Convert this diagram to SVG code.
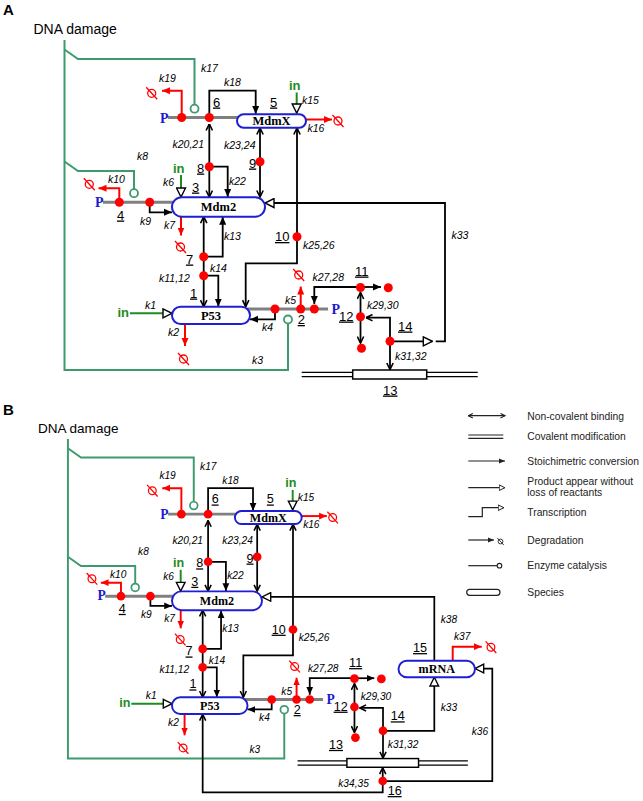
<svg xmlns="http://www.w3.org/2000/svg" xmlns:xlink="http://www.w3.org/1999/xlink" width="643" height="801" viewBox="0 0 643 801">
<style>
.c{fill:none;stroke:#000;stroke-width:1.8}
.r{fill:none;stroke:#f00;stroke-width:2}
.g{fill:none;stroke:#3e9a6e;stroke-width:2}
.gc{fill:#fff;stroke:#3e9a6e;stroke-width:1.8}
.gi{fill:none;stroke:#1e8c1e;stroke-width:2}
.ph{fill:none;stroke:#808080;stroke-width:3}
.dl{fill:none;stroke:#000;stroke-width:1.3}
.dot{fill:#f00}
.box{fill:#fff;stroke:#1f1fd1;stroke-width:2}
.bt{font-family:"Liberation Serif","Times New Roman",serif;font-weight:bold;font-size:12.5px;text-anchor:middle;fill:#000}
.k{font-family:"Liberation Sans",Arial,sans-serif;font-style:italic;font-size:10.5px;fill:#000}
.n{font-family:"Liberation Sans",Arial,sans-serif;font-size:13px;text-decoration:underline;fill:#000}
.in{font-family:"Liberation Sans",Arial,sans-serif;font-weight:bold;font-size:13px;fill:#1e8c1e}
.p{font-family:"Liberation Serif","Times New Roman",serif;font-weight:bold;font-size:14px;fill:#1a1acc}
.dna{font-family:"Liberation Sans",Arial,sans-serif;font-size:14px;fill:#000}
.pl{font-family:"Liberation Sans",Arial,sans-serif;font-weight:bold;font-size:15px;fill:#000}
.lg{font-family:"Liberation Sans",Arial,sans-serif;font-size:10.3px;fill:#222}
.lc{fill:none;stroke:#222;stroke-width:1.2}
</style>
<defs>
<marker id="fa" viewBox="0 0 8 8" refX="8" refY="4" markerWidth="8" markerHeight="8" markerUnits="userSpaceOnUse" orient="auto"><path d="M0,0.5L8,4L0,7.5z" fill="#000"/></marker>
<marker id="ra" viewBox="0 0 8 8" refX="8" refY="4" markerWidth="8" markerHeight="8" markerUnits="userSpaceOnUse" orient="auto"><path d="M0,0.5L8,4L0,7.5z" fill="#f00"/></marker>
<marker id="ch" viewBox="0 0 8 8" refX="7.5" refY="4" markerWidth="8" markerHeight="8" markerUnits="userSpaceOnUse" orient="auto-start-reverse"><path d="M1,0.8L7.5,4L1,7.2" fill="none" stroke="#000" stroke-width="1.6"/></marker>
<marker id="ot" viewBox="0 0 11 11" refX="10" refY="5.5" markerWidth="11" markerHeight="11" markerUnits="userSpaceOnUse" orient="auto"><path d="M1,1L10,5.5L1,10z" fill="#fff" stroke="#000" stroke-width="1.4"/></marker>
<marker id="lfa" viewBox="0 0 6 6" refX="6" refY="3" markerWidth="6" markerHeight="6" markerUnits="userSpaceOnUse" orient="auto"><path d="M0,0.5L6,3L0,5.5z" fill="#222"/></marker>
<marker id="lch" viewBox="0 0 6 6" refX="5.5" refY="3" markerWidth="6" markerHeight="6" markerUnits="userSpaceOnUse" orient="auto-start-reverse"><path d="M1,0.8L5.5,3L1,5.2" fill="none" stroke="#222" stroke-width="1.1"/></marker>
<marker id="lot" viewBox="0 0 7 7" refX="6.5" refY="3.5" markerWidth="7" markerHeight="7" markerUnits="userSpaceOnUse" orient="auto"><path d="M0.7,0.7L6.3,3.5L0.7,6.3z" fill="#fff" stroke="#222" stroke-width="1"/></marker>
<g id="deg"><circle r="4" fill="none" stroke="#f00" stroke-width="1.3"/><line x1="-5.5" y1="-6" x2="5.5" y2="6" stroke="#f00" stroke-width="1.3"/></g>
<g id="degk"><circle r="4" fill="none" stroke="#222" stroke-width="1.5"/><line x1="-5.5" y1="-6" x2="5.5" y2="6" stroke="#222" stroke-width="1.5"/></g>
</defs>

<!-- ================= PANEL A ================= -->
<text class="pl" x="3" y="15">A</text>
<g id="panelA">
<g id="a-connectors">
 <path class="g" d="M64.5,40V370H288V323.5"/>
 <path class="g" d="M64.5,49.5L78,59H194.5V104.7"/>
 <path class="g" d="M64.5,161.5L78,171H134V189.2"/>
 <circle class="gc" cx="194.5" cy="108.7" r="4"/>
 <circle class="gc" cx="134" cy="193.2" r="4"/>
 <circle class="gc" cx="288" cy="319.5" r="4"/>
 <path class="ph" d="M168,117.5H240"/>
 <path class="ph" d="M103,202.3H175"/>
 <path class="ph" d="M247,309H328"/>
 <path class="r" d="M181.7,117.5V90.7H162" marker-end="url(#ra)"/>
 <use href="#deg" x="151.7" y="93.3"/>
 <path class="r" d="M306,119.5H332" marker-end="url(#ra)"/>
 <use href="#deg" x="338" y="121"/>
 <path class="r" d="M119.3,202.3V188.3H98.5" marker-end="url(#ra)"/>
 <use href="#deg" x="89.3" y="184.3"/>
 <path class="r" d="M181,216.7V235.5" marker-end="url(#ra)"/>
 <use href="#deg" x="180.5" y="247"/>
 <path class="r" d="M185,324V346" marker-end="url(#ra)"/>
 <use href="#deg" x="183.5" y="359"/>
 <path class="r" d="M300.7,309V286.5" marker-end="url(#ra)"/>
 <use href="#deg" x="298.7" y="275"/>
 <path class="gi" d="M296.7,92.5V113" marker-end="url(#ot)"/>
 <path class="gi" d="M181,175V197" marker-end="url(#ot)"/>
 <path class="gi" d="M130,313.3H172" marker-end="url(#ot)"/>
 <path class="c" d="M209.3,117.5V90.7H255.7V114" marker-end="url(#fa)"/>
 <path class="c" d="M209.3,124V197" marker-start="url(#ch)" marker-end="url(#ch)"/>
 <path class="c" d="M209.3,166.7H227.7V197" marker-end="url(#fa)"/>
 <path class="c" d="M260,128V197" marker-start="url(#ch)" marker-end="url(#ch)"/>
 <path class="c" d="M297,128V263.3H245.7V306.7" marker-start="url(#ch)" marker-end="url(#ch)"/>
 <path class="c" d="M149.7,202.3V212.3H172" marker-end="url(#fa)"/>
 <path class="c" d="M203.7,216.7V306.7" marker-start="url(#ch)" marker-end="url(#ch)"/>
 <path class="c" d="M203.7,256.7H222.7V216.7" marker-end="url(#fa)"/>
 <path class="c" d="M203.7,275.7H218.3V306.7" marker-end="url(#fa)"/>
 <path class="c" d="M275,309V319.3H250" marker-end="url(#fa)"/>
 <path class="c" d="M360.5,287H314.3V304" marker-end="url(#fa)"/>
 <path class="c" d="M360.5,287H381" marker-end="url(#fa)"/>
 <path class="c" d="M360.5,292.5V343" marker-start="url(#ch)" marker-end="url(#ch)"/>
 <path class="c" d="M366,317.7H390V369.5" marker-start="url(#ch)" marker-end="url(#ch)"/>
 <path class="c" d="M390,341.3H432.3" marker-end="url(#ot)"/>
 <path class="c" d="M435.7,341.3H445V203H265" marker-end="url(#ot)"/>
 <path class="dl" d="M301.7,372.3H477.7M301.7,376.7H477.7"/>
</g>
<g id="a-labels">
 <text class="dna" x="33.5" y="33.5">DNA damage</text>
 <text class="k" x="159" y="81.5">k19</text>
 <text class="k" x="201" y="72">k17</text>
 <text class="k" x="224" y="86">k18</text>
 <text class="k" x="302" y="103.5">k15</text>
 <text class="k" x="307.5" y="132">k16</text>
 <text class="k" x="172.5" y="148">k20,21</text>
 <text class="k" x="224" y="148.5">k23,24</text>
 <text class="k" x="229" y="184.5">k22</text>
 <text class="k" x="137" y="160">k8</text>
 <text class="k" x="108" y="183">k10</text>
 <text class="k" x="163" y="186">k6</text>
 <text class="k" x="140" y="225">k9</text>
 <text class="k" x="164" y="229">k7</text>
 <text class="k" x="224" y="239.5">k13</text>
 <text class="k" x="210" y="272">k14</text>
 <text class="k" x="159" y="281.5">k11,12</text>
 <text class="k" x="303" y="248.5">k25,26</text>
 <text class="k" x="145" y="308.5">k1</text>
 <text class="k" x="168" y="336">k2</text>
 <text class="k" x="262" y="331">k4</text>
 <text class="k" x="285" y="304">k5</text>
 <text class="k" x="252" y="364">k3</text>
 <text class="k" x="312.5" y="280.5">k27,28</text>
 <text class="k" x="367" y="309">k29,30</text>
 <text class="k" x="395" y="359.5">k31,32</text>
 <text class="k" x="451.5" y="239">k33</text>
 <text class="in" x="289" y="89.5">in</text>
 <text class="in" x="173" y="172.5">in</text>
 <text class="in" x="117.5" y="316.5">in</text>
 <text class="p" x="160" y="123">P</text>
 <text class="p" x="95" y="206.5">P</text>
 <text class="p" x="331.5" y="313.5">P</text>
</g>
<g id="a-mdmx"><rect class="box" x="237" y="114.3" width="69" height="13.4" rx="6.7"/><text class="bt" x="271.5" y="125.3">MdmX</text><text class="n" x="270" y="106.5">5</text></g>
<g id="a-mdm2"><rect class="box" x="172" y="197.3" width="93" height="19.4" rx="9.7"/><text class="bt" x="218.5" y="211.3">Mdm2</text><text class="n" x="192" y="191.5">3</text></g>
<g id="a-p53"><rect class="box" x="172" y="306.7" width="78" height="17.3" rx="8.6"/><text class="bt" x="211" y="319.8">P53</text><text class="n" x="190" y="297.5">1</text></g>
<g id="a-n13"><rect x="352.7" y="370" width="74" height="9" fill="#fff" stroke="#000" stroke-width="1.5"/><text class="n" x="383" y="394.5">13</text></g>
<g id="a-n6"><circle class="dot" cx="209.3" cy="117.5" r="4.5"/><text class="n" x="213" y="106.5">6</text></g>
<g id="a-pmdmx"><circle class="dot" cx="181.7" cy="117.5" r="4.5"/></g>
<g id="a-n8"><circle class="dot" cx="209.3" cy="166.7" r="4.5"/><text class="n" x="197" y="172.5">8</text></g>
<g id="a-n9"><circle class="dot" cx="260" cy="161.7" r="4.5"/><text class="n" x="249" y="167.5">9</text></g>
<g id="a-n10"><circle class="dot" cx="297" cy="236.7" r="4.5"/><text class="n" x="275" y="241">10</text></g>
<g id="a-n4"><circle class="dot" cx="119.3" cy="202.3" r="4.5"/><text class="n" x="117" y="219.5">4</text></g>
<g id="a-pmdm2"><circle class="dot" cx="149.7" cy="202.3" r="4.5"/></g>
<g id="a-n7"><circle class="dot" cx="203.7" cy="256.7" r="4.5"/><text class="n" x="186" y="263.5">7</text></g>
<g id="a-c1"><circle class="dot" cx="203.7" cy="275.7" r="4.5"/></g>
<g id="a-c2"><circle class="dot" cx="275" cy="309" r="4.5"/></g>
<g id="a-n2"><circle class="dot" cx="300.7" cy="309" r="4.5"/><text class="n" x="297.7" y="324">2</text></g>
<g id="a-c3"><circle class="dot" cx="314.3" cy="309" r="4.5"/></g>
<g id="a-n11"><circle class="dot" cx="360.5" cy="287.5" r="4.5"/><text class="n" x="355" y="275.5">11</text></g>
<g id="a-c4"><circle class="dot" cx="388.3" cy="287.7" r="4.5"/></g>
<g id="a-n12"><circle class="dot" cx="360.5" cy="316.7" r="4.5"/><text class="n" x="339" y="320.5">12</text></g>
<g id="a-c5"><circle class="dot" cx="361.5" cy="348.3" r="4.5"/></g>
<g id="a-n14"><circle class="dot" cx="390" cy="341.3" r="4.5"/><text class="n" x="398" y="330.5">14</text></g>
</g>

<!-- ================= PANEL B ================= -->
<text class="pl" x="3" y="415">B</text>
<g id="panelB" transform="matrix(0.968 0 0 0.968 5.49 400.4)">
<g id="b-connectors">
 <path class="g" d="M64.5,40V370H288V323.5"/>
 <path class="g" d="M64.5,49.5L78,59H194.5V104.7"/>
 <path class="g" d="M64.5,161.5L78,171H134V189.2"/>
 <circle class="gc" cx="194.5" cy="108.7" r="4"/>
 <circle class="gc" cx="134" cy="193.2" r="4"/>
 <circle class="gc" cx="288" cy="319.5" r="4"/>
 <path class="ph" d="M168,117.5H240"/>
 <path class="ph" d="M103,202.3H175"/>
 <path class="ph" d="M247,309H328"/>
 <path class="r" d="M181.7,117.5V90.7H162" marker-end="url(#ra)"/>
 <use href="#deg" x="151.7" y="93.3"/>
 <path class="r" d="M306,119.5H332" marker-end="url(#ra)"/>
 <use href="#deg" x="338" y="121"/>
 <path class="r" d="M119.3,202.3V188.3H98.5" marker-end="url(#ra)"/>
 <use href="#deg" x="89.3" y="184.3"/>
 <path class="r" d="M181,216.7V235.5" marker-end="url(#ra)"/>
 <use href="#deg" x="180.5" y="247"/>
 <path class="r" d="M185,324V346" marker-end="url(#ra)"/>
 <use href="#deg" x="183.5" y="359"/>
 <path class="r" d="M300.7,309V286.5" marker-end="url(#ra)"/>
 <use href="#deg" x="298.7" y="275"/>
 <path class="r" d="M462,269V254.4H492" marker-end="url(#ra)"/>
 <use href="#deg" x="501.5" y="255"/>
 <path class="gi" d="M296.7,92.5V113" marker-end="url(#ot)"/>
 <path class="gi" d="M181,175V197" marker-end="url(#ot)"/>
 <path class="gi" d="M130,313.3H172" marker-end="url(#ot)"/>
 <path class="c" d="M209.3,117.5V90.7H255.7V114" marker-end="url(#fa)"/>
 <path class="c" d="M209.3,124V197" marker-start="url(#ch)" marker-end="url(#ch)"/>
 <path class="c" d="M209.3,166.7H227.7V197" marker-end="url(#fa)"/>
 <path class="c" d="M260,128V197" marker-start="url(#ch)" marker-end="url(#ch)"/>
 <path class="c" d="M297,128V263.3H245.7V306.7" marker-start="url(#ch)" marker-end="url(#ch)"/>
 <path class="c" d="M149.7,202.3V212.3H172" marker-end="url(#fa)"/>
 <path class="c" d="M203.7,216.7V306.7" marker-start="url(#ch)" marker-end="url(#ch)"/>
 <path class="c" d="M203.7,256.7H222.7V216.7" marker-end="url(#fa)"/>
 <path class="c" d="M203.7,275.7H218.3V306.7" marker-end="url(#fa)"/>
 <path class="c" d="M275,309V319.3H250" marker-end="url(#fa)"/>
 <path class="c" d="M360.5,287H314.3V304" marker-end="url(#fa)"/>
 <path class="c" d="M360.5,287H381" marker-end="url(#fa)"/>
 <path class="c" d="M360.5,292.5V343" marker-start="url(#ch)" marker-end="url(#ch)"/>
 <path class="c" d="M366,317.7H390V369.5" marker-start="url(#ch)" marker-end="url(#ch)"/>
 <path class="c" d="M390,341.3H443V286" marker-end="url(#ot)"/>
 <path class="c" d="M443,269V203H265" marker-end="url(#ot)"/>
 <path class="c" d="M389.7,393.2H502.9V277H485" marker-end="url(#ot)"/>
 <path class="c" d="M203.7,324.3V405H389.7V379.5" marker-start="url(#ch)" marker-end="url(#ch)"/>
 <path class="dl" d="M301.7,372.3H477.7M301.7,376.7H477.7"/>
</g>
<g id="b-labels">
 <text class="dna" x="33.5" y="33.5">DNA damage</text>
 <text class="k" x="159" y="81.5">k19</text>
 <text class="k" x="201" y="72">k17</text>
 <text class="k" x="224" y="86">k18</text>
 <text class="k" x="302" y="103.5">k15</text>
 <text class="k" x="307.5" y="132">k16</text>
 <text class="k" x="172.5" y="148">k20,21</text>
 <text class="k" x="224" y="148.5">k23,24</text>
 <text class="k" x="229" y="184.5">k22</text>
 <text class="k" x="137" y="160">k8</text>
 <text class="k" x="108" y="183">k10</text>
 <text class="k" x="163" y="186">k6</text>
 <text class="k" x="140" y="225">k9</text>
 <text class="k" x="164" y="229">k7</text>
 <text class="k" x="224" y="239.5">k13</text>
 <text class="k" x="210" y="272">k14</text>
 <text class="k" x="159" y="281.5">k11,12</text>
 <text class="k" x="303" y="248.5">k25,26</text>
 <text class="k" x="145" y="308.5">k1</text>
 <text class="k" x="168" y="336">k2</text>
 <text class="k" x="262" y="331">k4</text>
 <text class="k" x="285" y="304">k5</text>
 <text class="k" x="252" y="364">k3</text>
 <text class="k" x="312.5" y="280.5">k27,28</text>
 <text class="k" x="367" y="309">k29,30</text>
 <text class="k" x="395" y="359.5">k31,32</text>
 <text class="k" x="449.6" y="321">k33</text>
 <text class="k" x="449.6" y="230">k38</text>
 <text class="k" x="463.3" y="247.5">k37</text>
 <text class="k" x="481.6" y="345.6">k36</text>
 <text class="k" x="343.8" y="399.4">k34,35</text>
 <text class="in" x="289" y="89.5">in</text>
 <text class="in" x="173" y="172.5">in</text>
 <text class="in" x="117.5" y="316.5">in</text>
 <text class="p" x="160" y="123">P</text>
 <text class="p" x="95" y="206.5">P</text>
 <text class="p" x="331.5" y="313.5">P</text>
</g>
<g id="b-mdmx"><rect class="box" x="237" y="114.3" width="69" height="13.4" rx="6.7"/><text class="bt" x="271.5" y="125.3">MdmX</text><text class="n" x="270" y="106.5">5</text></g>
<g id="b-mdm2"><rect class="box" x="172" y="197.3" width="93" height="19.4" rx="9.7"/><text class="bt" x="218.5" y="211.3">Mdm2</text><text class="n" x="192" y="191.5">3</text></g>
<g id="b-p53"><rect class="box" x="172" y="306.7" width="78" height="17.3" rx="8.6"/><text class="bt" x="211" y="319.8">P53</text><text class="n" x="190" y="297.5">1</text></g>
<g id="b-mrna"><rect class="box" x="406" y="269" width="79" height="17" rx="8.5"/><text class="bt" x="445.5" y="281.8">mRNA</text><text class="n" x="421" y="260">15</text></g>
<g id="b-n13"><rect x="352.7" y="370" width="74" height="9" fill="#fff" stroke="#000" stroke-width="1.5"/><text class="n" x="334.2" y="360">13</text></g>
<g id="b-n6"><circle class="dot" cx="209.3" cy="117.5" r="4.5"/><text class="n" x="213" y="106.5">6</text></g>
<g id="b-pmdmx"><circle class="dot" cx="181.7" cy="117.5" r="4.5"/></g>
<g id="b-n8"><circle class="dot" cx="209.3" cy="166.7" r="4.5"/><text class="n" x="197" y="172.5">8</text></g>
<g id="b-n9"><circle class="dot" cx="260" cy="161.7" r="4.5"/><text class="n" x="249" y="167.5">9</text></g>
<g id="b-n10"><circle class="dot" cx="297" cy="236.7" r="4.5"/><text class="n" x="275" y="241">10</text></g>
<g id="b-n4"><circle class="dot" cx="119.3" cy="202.3" r="4.5"/><text class="n" x="117" y="219.5">4</text></g>
<g id="b-pmdm2"><circle class="dot" cx="149.7" cy="202.3" r="4.5"/></g>
<g id="b-n7"><circle class="dot" cx="203.7" cy="256.7" r="4.5"/><text class="n" x="186" y="263.5">7</text></g>
<g id="b-c1"><circle class="dot" cx="203.7" cy="275.7" r="4.5"/></g>
<g id="b-c2"><circle class="dot" cx="275" cy="309" r="4.5"/></g>
<g id="b-n2"><circle class="dot" cx="300.7" cy="309" r="4.5"/><text class="n" x="297.7" y="324">2</text></g>
<g id="b-c3"><circle class="dot" cx="314.3" cy="309" r="4.5"/></g>
<g id="b-n11"><circle class="dot" cx="360.5" cy="287.5" r="4.5"/><text class="n" x="355" y="275.5">11</text></g>
<g id="b-c4"><circle class="dot" cx="388.3" cy="287.7" r="4.5"/></g>
<g id="b-n12"><circle class="dot" cx="360.5" cy="316.7" r="4.5"/><text class="n" x="339" y="320.5">12</text></g>
<g id="b-c5"><circle class="dot" cx="361.5" cy="348.3" r="4.5"/></g>
<g id="b-n14"><circle class="dot" cx="390" cy="341.3" r="4.5"/><text class="n" x="398" y="330.5">14</text></g>
<g id="b-n16"><circle class="dot" cx="389.7" cy="393.2" r="4.5"/><text class="n" x="394.8" y="407.7">16</text></g>
</g>

<!-- ================= LEGEND ================= -->
<g id="legend">
 <path class="lc" d="M468.3,415.7H505" marker-start="url(#lch)" marker-end="url(#lch)"/>
 <text class="lg" x="527.3" y="419.5">Non-covalent binding</text>
 <path class="lc" d="M468.3,435H503.3M468.3,438.3H503.3"/>
 <text class="lg" x="527.3" y="440">Covalent modification</text>
 <path class="lc" d="M468.3,461H505" marker-end="url(#lfa)"/>
 <text class="lg" x="527.3" y="464.5">Stoichimetric conversion</text>
 <path class="lc" d="M468.3,487.7H505" marker-end="url(#lot)"/>
 <text class="lg" x="527.3" y="484.5">Product appear without</text>
 <text class="lg" x="527.3" y="496">loss of reactants</text>
 <path class="lc" d="M468.3,516.7H482.3V507.7H504" marker-end="url(#lot)"/>
 <text class="lg" x="527.3" y="516">Transcription</text>
 <path class="lc" d="M468.3,540H494" marker-end="url(#lfa)"/>
 <use href="#degk" transform="translate(500.5,541.5) scale(0.6)"/>
 <text class="lg" x="527.3" y="543.5">Degradation</text>
 <path class="lc" d="M468.3,565.7H497.2"/>
 <circle cx="499.5" cy="565.7" r="2.3" fill="#fff" stroke="#222" stroke-width="1.1"/>
 <text class="lg" x="527.3" y="569">Enzyme catalysis</text>
 <rect x="466.7" y="589.3" width="33.3" height="6" rx="3" fill="#fff" stroke="#222" stroke-width="1.2"/>
 <text class="lg" x="527.3" y="596">Species</text>
</g>
</svg>
